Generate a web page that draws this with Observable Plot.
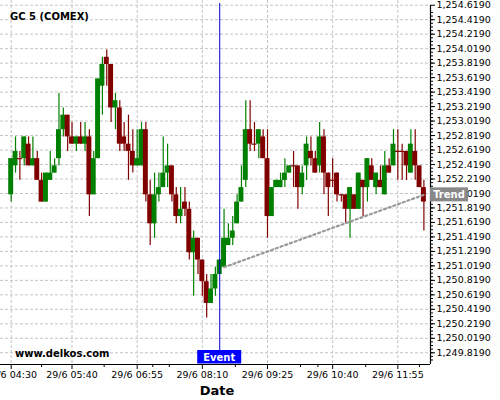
<!DOCTYPE html>
<html><head><meta charset="utf-8">
<script src="https://cdn.jsdelivr.net/npm/d3@7"></script>
<script src="https://cdn.jsdelivr.net/npm/@observablehq/plot@0.6"></script>
<style>body{margin:0;background:#fff}</style>
</head><body><div id="chart"></div>
<script>
const title = "GC 5 (COMEX)";
const watermark = "www.delkos.com";
const dayLabel = "29/6";
const times = ["04:30","04:35","04:40","04:45","04:50","04:55","05:00","05:05","05:10","05:15","05:20","05:25","05:30","05:35","05:40","05:45","05:50","05:55","06:00","06:05","06:10","06:15","06:20","06:25","06:30","06:35","06:40","06:45","06:50","06:55","07:00","07:05","07:10","07:15","07:20","07:25","07:30","07:35","07:40","07:45","07:50","07:55","08:00","08:05","08:10","08:15","08:20","08:25","08:30","08:35","08:40","08:45","08:50","08:55","09:00","09:05","09:10","09:15","09:20","09:25","09:30","09:35","09:40","09:45","09:50","09:55","10:00","10:05","10:10","10:15","10:20","10:25","10:30","10:35","10:40","10:45","10:50","10:55","11:00","11:05","11:10","11:15","11:20","11:25","11:30","11:35","11:40","11:45","11:50","11:55","12:00","12:05","12:10","12:15","12:20","12:25"];
const open  = [1252.0,1252.4,1252.5,1252.5,1252.7,1252.4,1252.5,1252.2,1251.9,1252.2,1252.3,1252.5,1252.9,1253.1,1252.8,1252.7,1252.8,1252.7,1252.8,1252.0,1252.5,1253.5,1253.9,1253.8,1253.2,1253.2,1252.8,1252.7,1252.6,1252.4,1252.4,1252.9,1252.0,1251.6,1252.0,1252.1,1252.3,1252.4,1252.0,1251.7,1251.9,1251.8,1251.2,1251.4,1251.1,1250.8,1250.5,1250.7,1250.9,1251.0,1251.3,1251.4,1251.6,1251.9,1252.2,1252.9,1252.7,1252.7,1252.8,1252.5,1251.7,1252.1,1252.1,1252.2,1252.3,1252.4,1252.4,1252.1,1252.4,1252.6,1252.5,1252.4,1252.8,1252.3,1252.2,1252.3,1252.0,1252.0,1251.8,1252.0,1251.8,1252.2,1252.1,1252.4,1252.1,1252.2,1252.0,1252.4,1252.4,1252.6,1252.6,1252.6,1252.3,1252.6,1252.4,1252.1];
const high  = [1252.5,1252.8,1252.6,1252.8,1252.8,1252.8,1252.6,1252.3,1252.3,1252.6,1252.5,1253.4,1253.2,1253.1,1253.0,1252.8,1253.0,1253.0,1252.9,1252.6,1253.6,1253.9,1254.0,1253.8,1253.4,1253.3,1253.0,1253.1,1252.9,1252.9,1253.0,1253.0,1252.2,1252.3,1252.3,1252.8,1252.7,1252.4,1252.1,1252.1,1252.1,1251.9,1251.5,1251.4,1251.1,1250.9,1250.9,1251.0,1251.1,1251.8,1251.6,1251.7,1252.0,1252.4,1253.3,1253.3,1253.0,1252.9,1252.9,1252.9,1252.1,1252.2,1252.3,1252.5,1252.4,1252.6,1252.4,1252.4,1252.8,1252.8,1252.6,1253.0,1252.9,1252.3,1252.5,1252.3,1252.0,1252.0,1252.1,1252.0,1252.3,1252.2,1252.5,1252.5,1252.3,1252.4,1252.6,1252.5,1252.9,1252.9,1252.7,1252.6,1252.9,1252.9,1252.4,1252.2];
const low   = [1251.9,1252.3,1252.2,1252.4,1252.4,1252.4,1252.2,1251.9,1251.9,1252.2,1252.3,1252.4,1252.8,1252.6,1252.7,1252.6,1252.7,1252.6,1251.7,1252.0,1252.5,1253.1,1253.5,1253.0,1252.9,1252.6,1252.6,1252.2,1252.3,1252.4,1252.4,1251.9,1251.3,1251.4,1251.9,1252.1,1252.1,1251.9,1251.6,1251.6,1251.7,1251.1,1250.6,1250.9,1250.6,1250.3,1250.5,1250.6,1250.9,1251.0,1251.3,1251.3,1251.6,1251.9,1252.1,1252.6,1252.6,1252.5,1252.5,1251.4,1251.7,1252.1,1252.1,1252.1,1252.3,1252.1,1251.8,1252.0,1252.2,1252.4,1252.3,1252.3,1252.0,1251.7,1252.1,1251.9,1251.9,1251.6,1251.4,1251.8,1251.8,1251.7,1251.9,1252.2,1252.0,1252.1,1252.0,1252.3,1252.4,1252.2,1252.2,1252.2,1252.3,1252.2,1252.1,1251.5];
const close = [1252.5,1252.6,1252.5,1252.8,1252.4,1252.5,1252.2,1251.9,1252.3,1252.3,1252.4,1252.9,1253.1,1252.8,1252.7,1252.8,1252.7,1252.8,1252.0,1252.5,1253.6,1253.8,1253.8,1253.2,1253.3,1252.7,1252.7,1252.6,1252.4,1252.5,1252.9,1252.0,1251.6,1252.0,1252.1,1252.3,1252.4,1252.0,1251.7,1251.8,1251.8,1251.2,1251.4,1251.1,1250.8,1250.5,1250.7,1250.9,1251.1,1251.4,1251.4,1251.5,1251.9,1252.1,1252.9,1252.7,1252.7,1252.9,1252.5,1251.7,1252.1,1252.2,1252.2,1252.3,1252.4,1252.4,1252.1,1252.3,1252.7,1252.5,1252.3,1252.8,1252.3,1252.1,1252.2,1252.0,1252.0,1251.8,1252.1,1251.8,1252.3,1252.1,1252.5,1252.2,1252.3,1252.1,1252.4,1252.3,1252.7,1252.6,1252.6,1252.4,1252.7,1252.4,1252.1,1251.9];
const yTickValues = [1249.819,1250.019,1250.219,1250.419,1250.619,1250.819,1251.019,1251.219,1251.419,1251.619,1251.819,1252.019,1252.219,1252.419,1252.619,1252.819,1253.019,1253.219,1253.419,1253.619,1253.819,1254.019,1254.219,1254.419,1254.619];
const xTickTimes = ["04:30","05:40","06:55","08:10","09:25","10:40","11:55"];
const xMinorTimes = ["05:05","06:17","07:13","07:32","08:48","10:03","10:23","11:18","12:20"];
const eventTime = "08:30";
const eventLabel = "Event";
const trendTimes = ["08:35","12:25"];
const trendPrices = [1251.0, 1252.0];
const trendLabel = "Trend";
const axisTitle = "Date";

const toDate = s => new Date(Date.UTC(2015, 5, 29, +s.slice(0, 2), +s.slice(3, 5)));
const MIN = 60000;
const data = times.map((t, i) => ({t: toDate(t), o: open[i], h: high[i], l: low[i], c: close[i]}));
const up = "#008000", down = "#800000";
const col = d => d.c > d.o ? up : down;
const half = 2.85 * MIN;
const xDomain = [new Date(+toDate("04:30") - 12.3 * MIN), new Date(+toDate("04:30") + 482.6 * MIN)];
const yDomain = [1249.657, 1254.684];
const minorY = d3.range(0, 97).map(i => +(1249.719 + i * 0.05).toFixed(3)).filter(v => v > yDomain[0] && v < 1254.62);
const trend = trendTimes.map((t, i) => ({t: toDate(t), p: trendPrices[i]}));
const fmtTime = d3.utcFormat("%H:%M");

const chart = Plot.plot({
  width: 500, height: 400,
  marginLeft: 0, marginRight: 70, marginTop: 0, marginBottom: 36,
  style: {fontFamily: "DejaVu Sans", fontSize: "9.5px", background: "#fff", color: "#000"},
  x: {type: "utc", domain: xDomain},
  y: {domain: yDomain},
  marks: [
    Plot.gridY(yTickValues, {stroke: "#c4c4c4", strokeOpacity: 1, strokeDasharray: "3,2"}),
    Plot.gridX(xTickTimes.map(toDate), {stroke: "#c4c4c4", strokeOpacity: 1, strokeDasharray: "3,2"}),
    Plot.ruleX(data, {x: "t", y1: "l", y2: "h", stroke: col, strokeWidth: 1.2}),
    Plot.rect(data.filter(d => d.c !== d.o), {x1: d => new Date(+d.t - half), x2: d => new Date(+d.t + half), y1: "o", y2: "c", fill: col}),
    Plot.ruleY(data.filter(d => d.c === d.o), {y: "o", x1: d => new Date(+d.t - half), x2: d => new Date(+d.t + half), stroke: down, strokeWidth: 1.2}),
    Plot.line(trend, {x: "t", y: "p", stroke: "#999", strokeWidth: 2.2, strokeDasharray: "2.2,2.8"}),
    Plot.ruleX([toDate(eventTime)], {stroke: "#0000cc", strokeWidth: 1, insetTop: 3, insetBottom: 14}),
    Plot.ruleY([yDomain[0]], {stroke: "#000", strokeWidth: 1.2}),
    Plot.ruleX([xDomain[1]], {y1: yDomain[0], y2: yTickValues[yTickValues.length - 1], stroke: "#000", strokeWidth: 1.2}),
    Plot.axisY(yTickValues, {anchor: "right", tickSize: 4, tickPadding: 2, tickFormat: d3.format(",.4f"), label: null}),
    Plot.axisY(minorY, {anchor: "right", tickSize: 2, tickFormat: () => "", label: null}),
    Plot.axisX(xTickTimes.map(toDate), {anchor: "bottom", tickSize: 5, tickPadding: 2, tickFormat: d => dayLabel + " " + fmtTime(d), label: null}),
    Plot.axisX(xMinorTimes.map(toDate), {anchor: "bottom", tickSize: 3, tickFormat: () => "", label: null})
  ]
});

const svg = d3.select(chart);
const xs = chart.scale("x"), ys = chart.scale("y");
const addText = (x, y, txt, size, fill, anchor) => svg.append("text").attr("x", x).attr("y", y)
  .attr("text-anchor", anchor).style("text-anchor", anchor).attr("font-family", "DejaVu Sans")
  .attr("font-weight", "bold").attr("font-size", size).attr("fill", fill).text(txt);
addText(10, 19.5, title, 10, "#000", "start");
addText(15, 357, watermark, 10, "#000", "start");
const ex = xs.apply(toDate(eventTime));
svg.append("rect").attr("x", ex - 22).attr("y", 350).attr("width", 44).attr("height", 13.5).attr("fill", "#0000ff");
addText(ex, 360.5, eventLabel, 10, "#fff", "middle");
const tx = xs.apply(xDomain[1]), ty = ys.apply(trendPrices[1]);
svg.append("rect").attr("x", tx).attr("y", ty - 7).attr("width", 38).attr("height", 14).attr("fill", "#888");
addText(tx + 19, ty + 3.8, trendLabel, 10, "#fff", "middle");
addText(217, 394.5, axisTitle, 13, "#000", "middle");
document.getElementById("chart").append(chart);
</script></body></html>
